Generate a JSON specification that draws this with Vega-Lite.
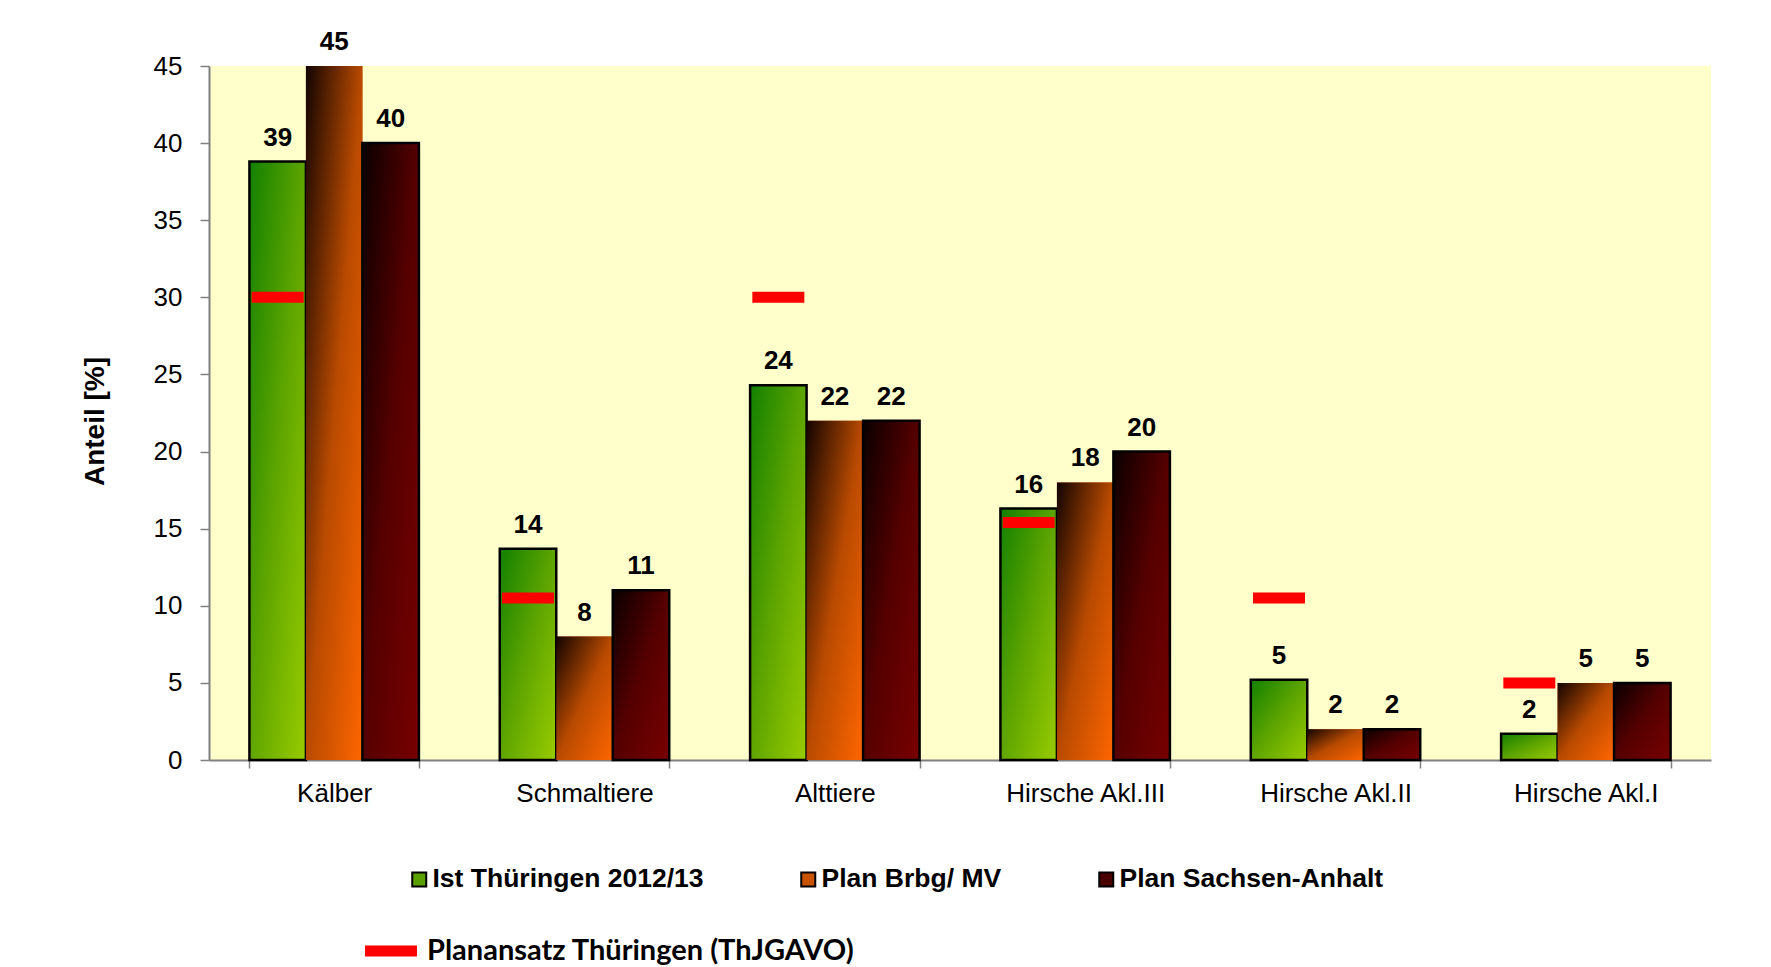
{
  "$schema": "https://vega.github.io/schema/vega-lite/v6.json",
  "width": 1502,
  "height": 694,
  "autosize": {"type": "none"},
  "padding": {"left": 209, "top": 66, "right": 60, "bottom": 207},
  "background": "white",
  "config": {
    "view": {"fill": "#ffffcc", "stroke": null},
    "font": "Liberation Sans"
  },
  "datasets": {
    "anteil": [
      {"klasse": "Kälber", "serie": "Ist Thüringen 2012/13", "wert": 38.8},
      {"klasse": "Kälber", "serie": "Plan Brbg/ MV", "wert": 45},
      {"klasse": "Kälber", "serie": "Plan Sachsen-Anhalt", "wert": 40},
      {"klasse": "Schmaltiere", "serie": "Ist Thüringen 2012/13", "wert": 13.7},
      {"klasse": "Schmaltiere", "serie": "Plan Brbg/ MV", "wert": 8},
      {"klasse": "Schmaltiere", "serie": "Plan Sachsen-Anhalt", "wert": 11},
      {"klasse": "Alttiere", "serie": "Ist Thüringen 2012/13", "wert": 24.3},
      {"klasse": "Alttiere", "serie": "Plan Brbg/ MV", "wert": 22},
      {"klasse": "Alttiere", "serie": "Plan Sachsen-Anhalt", "wert": 22},
      {"klasse": "Hirsche Akl.III", "serie": "Ist Thüringen 2012/13", "wert": 16.3},
      {"klasse": "Hirsche Akl.III", "serie": "Plan Brbg/ MV", "wert": 18},
      {"klasse": "Hirsche Akl.III", "serie": "Plan Sachsen-Anhalt", "wert": 20},
      {"klasse": "Hirsche Akl.II", "serie": "Ist Thüringen 2012/13", "wert": 5.2},
      {"klasse": "Hirsche Akl.II", "serie": "Plan Brbg/ MV", "wert": 2},
      {"klasse": "Hirsche Akl.II", "serie": "Plan Sachsen-Anhalt", "wert": 2},
      {"klasse": "Hirsche Akl.I", "serie": "Ist Thüringen 2012/13", "wert": 1.7},
      {"klasse": "Hirsche Akl.I", "serie": "Plan Brbg/ MV", "wert": 5},
      {"klasse": "Hirsche Akl.I", "serie": "Plan Sachsen-Anhalt", "wert": 5}
    ],
    "plan": [
      {"klasse": "Kälber", "wert": 30},
      {"klasse": "Schmaltiere", "wert": 10.5},
      {"klasse": "Alttiere", "wert": 30},
      {"klasse": "Hirsche Akl.III", "wert": 15.4},
      {"klasse": "Hirsche Akl.II", "wert": 10.5},
      {"klasse": "Hirsche Akl.I", "wert": 5}
    ]
  },
  "encoding": {
    "x": {
      "field": "klasse", "type": "nominal", "sort": null,
      "scale": {"paddingInner": 0.323, "paddingOuter": 0.1615},
      "axis": {
        "title": null, "labelAngle": 0, "labelFont": "Liberation Sans", "labelFontSize": 26,
        "labelColor": "#000000", "labelPadding": 12, "labelBaseline": "top",
        "tickBand": "extent", "tickSize": 8, "tickColor": "#808080", "tickWidth": 1.5,
        "domainColor": "#808080", "domainWidth": 2, "grid": false
      }
    },
    "xOffset": {
      "field": "serie", "type": "nominal", "sort": null,
      "scale": {"domain": ["Ist Thüringen 2012/13", "Plan Brbg/ MV", "Plan Sachsen-Anhalt"]}
    },
    "y": {
      "field": "wert", "type": "quantitative",
      "scale": {"domain": [0, 45], "nice": false},
      "axis": {
        "title": "Anteil [%]", "values": [0, 5, 10, 15, 20, 25, 30, 35, 40, 45],
        "labelFont": "Liberation Sans", "labelFontSize": 26, "labelColor": "#000000",
        "labelPadding": 18, "tickSize": 9, "tickColor": "#808080", "tickWidth": 1.5,
        "domainColor": "#808080", "domainWidth": 2, "grid": false,
        "titleFont": "Liberation Sans", "titleFontSize": 28, "titleFontWeight": "bold",
        "titleColor": "#000000", "titleAngle": 270, "titleAlign": "center",
        "titleBaseline": "alphabetic", "titleX": -106, "titleY": 355
      }
    }
  },
  "layer": [
    {
      "data": {"name": "anteil"},
      "mark": {"type": "bar"},
      "encoding": {
        "fill": {
          "field": "serie", "type": "nominal", "sort": null,
          "scale": {
            "domain": ["Ist Thüringen 2012/13", "Plan Brbg/ MV", "Plan Sachsen-Anhalt"],
            "range": ["#5aa000", "#c85200", "#4a0000"]
          },
          "legend": {
            "orient": "none", "legendX": 197, "legendY": 800, "direction": "horizontal", "columns": 3,
            "title": null, "padding": 0, "symbolType": "square", "symbolSize": 196, "symbolStrokeWidth": 2,
            "symbolStrokeColor": "#000000", "symbolOpacity": 1,
            "labelFont": "Liberation Sans", "labelFontSize": 26.5, "labelFontWeight": "bold", "labelColor": "#000000",
            "labelOffset": 0, "columnPadding": 91, "labelLimit": 0
          }
        }
      }
    },
    {
      "data": {"name": "anteil"},
      "mark": {"type": "bar", "strokeWidth": 2.5},
      "encoding": {
        "fill": {
          "condition": [
            {"test": "datum.serie === 'Ist Thüringen 2012/13'", "value": {"gradient": "linear", "x1": 0, "y1": 0, "x2": 1, "y2": 1, "stops": [{"offset": 0, "color": "#128000"}, {"offset": 0.5, "color": "#5fa500"}, {"offset": 1, "color": "#99cc00"}]}},
            {"test": "datum.serie === 'Plan Brbg/ MV'", "value": {"gradient": "linear", "x1": 0, "y1": 0, "x2": 1, "y2": 1, "stops": [{"offset": 0, "color": "#120400"}, {"offset": 0.5, "color": "#b84a00"}, {"offset": 1, "color": "#ff6600"}]}}
          ],
          "value": {"gradient": "linear", "x1": 0, "y1": 0, "x2": 1, "y2": 1, "stops": [{"offset": 0, "color": "#0a0000"}, {"offset": 0.5, "color": "#560000"}, {"offset": 1, "color": "#780000"}]}
        },
        "stroke": {
          "condition": {"test": "datum.serie !== 'Plan Brbg/ MV'", "value": "#000000"},
          "value": "transparent"
        }
      }
    },
    {
      "data": {"name": "anteil"},
      "mark": {"type": "text", "font": "Liberation Sans", "fontSize": 26, "fontWeight": "bold", "color": "#000000", "baseline": "alphabetic", "dy": -16},
      "encoding": {
        "text": {"field": "wert", "type": "quantitative", "format": ".0f"}
      }
    },
    {
      "data": {"name": "plan"},
      "mark": {"type": "tick", "orient": "horizontal", "thickness": 11, "size": 52, "opacity": 1},
      "encoding": {
        "xOffset": {"datum": "Ist Thüringen 2012/13"},
        "color": {
          "datum": "Planansatz Thüringen (ThJGAVO)",
          "scale": {"range": ["#ff0000"]},
          "legend": {
            "orient": "none", "legendX": 156, "legendY": 859, "title": null, "padding": 0,
            "symbolType": "M-1,-0.21H1V0.21H-1Z", "symbolSize": 2704, "symbolStrokeWidth": 0, "symbolOpacity": 1,
            "labelFont": "Lato", "labelFontSize": 29, "labelFontWeight": "bold", "labelColor": "#000000",
            "labelOffset": 10, "labelLimit": 0
          }
        }
      }
    }
  ]
}
